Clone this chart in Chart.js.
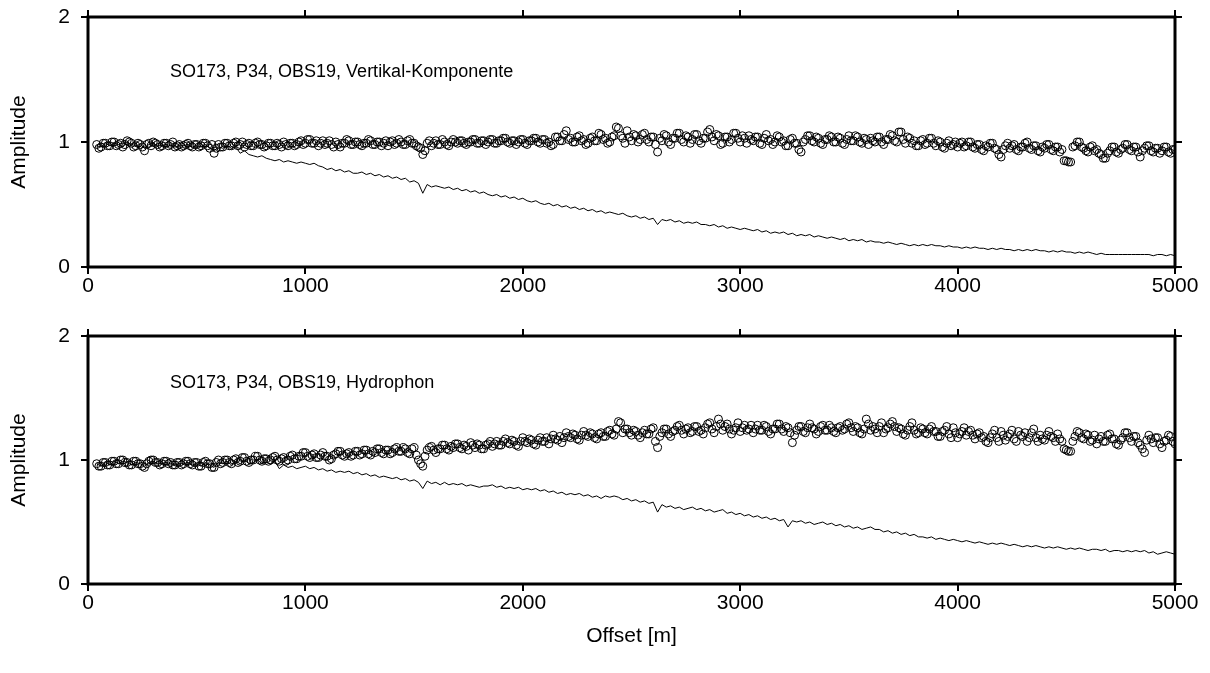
<!DOCTYPE html>
<html>
<head>
<meta charset="utf-8">
<script src="https://cdn.jsdelivr.net/npm/chart.js@4/dist/chart.umd.min.js"></script>
<style>
  html, body { margin: 0; padding: 0; background: #fff; }
  #wrap { position: relative; width: 1210px; height: 673px; }
  .panel { position: absolute; left: 0; }
</style>
</head>
<body>
<div id="wrap">
  <div class="panel" style="top:0"><canvas id="vertChart" width="1210" height="300"></canvas></div>
  <div class="panel" style="top:320px"><canvas id="hydroChart" width="1210" height="353"></canvas></div>
</div>
<script>
/* ================= DATA ================= */
// shot offsets start at 40 m; circles every 10 m, lines every 20 m
const offsetStart = 40;
const circleStep = 10;
const lineStep = 20;

const xTicks = [0, 1000, 2000, 3000, 4000, 5000];
const yTicks = [0, 1, 2];

// Vertikal-Komponente: corrected amplitudes (circles, 10 m)
const vertCorrected = [
  0.98,0.95,0.96,0.99,0.99,0.97,0.97,1.00,1.00,0.97,0.98,0.99,0.96,0.98,1.01,1.00,0.99,0.96,0.97,0.99,
  0.98,0.96,0.93,0.98,0.99,0.97,1.00,0.99,0.98,0.96,0.97,0.99,0.99,0.97,0.98,1.00,0.96,0.97,0.98,0.96,
  0.97,0.98,0.99,0.97,0.96,0.98,0.98,0.96,0.97,0.99,0.99,0.97,0.95,0.98,0.91,0.95,0.98,0.96,0.96,0.99,
  0.99,0.97,0.97,0.99,1.00,0.97,0.98,1.00,0.96,0.98,0.99,0.97,0.97,0.99,1.00,0.98,0.98,0.96,0.97,0.99,
  0.99,0.97,0.97,0.99,0.98,0.96,1.00,0.98,0.97,0.99,0.99,0.97,0.98,1.00,1.01,0.98,0.99,1.02,1.02,0.99,
  0.99,1.01,0.97,0.99,1.01,0.98,0.99,1.01,0.98,0.96,1.00,0.98,0.96,0.99,0.99,1.02,1.01,0.98,0.98,1.00,
  1.00,0.98,0.97,0.99,0.99,1.02,1.01,0.98,0.98,1.00,1.00,0.97,0.99,1.01,0.97,1.00,1.01,0.98,0.99,1.02,
  1.00,0.98,0.98,1.01,1.02,0.99,0.99,0.97,0.96,0.95,0.90,0.93,0.99,1.01,0.97,0.99,1.01,0.98,0.98,1.02,
  1.00,0.98,0.97,1.00,1.02,1.00,0.99,1.01,1.01,0.99,0.98,1.00,1.00,1.02,1.02,0.99,0.99,1.01,1.01,0.98,
  1.00,1.02,1.02,0.99,0.99,1.01,1.01,1.03,1.03,1.00,0.99,1.01,1.01,0.98,1.00,1.02,1.02,0.99,0.98,1.01,
  1.01,1.03,1.03,1.00,0.99,1.02,1.02,0.99,1.00,0.97,0.98,1.04,1.04,1.01,1.01,1.06,1.09,1.02,1.03,1.00,
  1.00,1.04,1.05,1.01,1.02,0.98,0.99,1.03,1.04,1.01,1.01,1.07,1.06,1.02,1.03,0.99,1.00,1.04,1.05,1.12,
  1.11,1.05,1.03,0.99,1.09,1.04,1.01,1.06,1.05,1.00,1.02,1.06,1.07,1.02,1.00,1.04,1.04,0.98,0.92,1.03,
  1.01,1.06,1.05,1.00,0.98,1.03,1.03,1.07,1.07,1.02,1.00,1.05,1.04,0.99,1.02,1.06,1.06,1.01,0.99,1.03,
  1.03,1.08,1.10,1.04,1.01,1.06,1.05,0.98,0.99,1.04,1.04,1.00,1.02,1.07,1.07,1.03,1.00,1.05,1.03,0.99,
  1.05,1.02,1.01,1.04,1.04,0.99,0.98,1.03,1.06,1.01,1.02,0.98,1.00,1.05,1.04,1.00,1.01,0.97,0.97,1.02,
  1.03,0.99,0.99,0.94,0.92,1.00,1.02,1.05,1.05,1.01,1.00,1.04,1.03,0.99,0.98,1.02,1.02,1.05,1.04,1.00,
  1.00,1.04,1.03,0.99,0.98,1.02,1.05,1.01,1.01,1.05,1.04,1.00,0.99,1.03,1.02,0.98,1.03,1.01,1.00,1.04,
  1.04,1.00,0.98,1.02,1.02,1.06,1.05,1.01,1.00,1.08,1.08,1.02,0.99,1.04,1.03,0.99,1.01,0.97,0.97,1.01,
  1.02,0.98,0.99,1.03,1.03,0.99,0.97,1.01,1.00,0.96,0.95,0.99,1.01,0.97,0.98,1.00,0.96,0.99,1.00,0.96,
  0.97,1.00,1.00,0.96,0.95,0.98,0.98,0.94,0.93,0.97,0.96,0.99,0.99,0.95,0.94,0.90,0.88,0.94,0.97,0.99,
  0.95,0.97,0.98,0.94,0.93,0.96,0.96,0.99,1.00,0.95,0.94,0.97,0.97,0.93,0.92,0.96,0.95,0.98,0.98,0.94,
  0.93,0.96,0.96,0.92,0.94,0.85,0.85,0.84,0.84,0.96,0.97,1.00,1.00,0.96,0.95,0.93,0.92,0.96,0.97,0.93,
  0.94,0.91,0.90,0.87,0.87,0.91,0.93,0.96,0.96,0.92,0.91,0.94,0.95,0.98,0.98,0.94,0.93,0.96,0.96,0.92,
  0.88,0.93,0.95,0.97,0.97,0.93,0.92,0.95,0.95,0.91,0.93,0.96,0.96,0.92,0.91,0.94,0.94
];

// Vertikal-Komponente: raw amplitudes (line, 20 m)
const vertRaw = [
  0.97,0.96,0.99,0.97,0.99,0.98,0.96,1.00,0.98,0.97,
  0.98,0.95,0.98,0.99,0.97,0.97,0.98,0.97,0.96,0.97,
  0.97,0.98,0.96,0.97,0.96,0.98,0.95,0.93,0.96,0.95,
  0.97,0.95,0.96,0.91,0.93,0.90,0.89,0.88,0.89,0.87,
  0.86,0.85,0.86,0.84,0.85,0.84,0.83,0.84,0.83,0.82,
  0.83,0.81,0.80,0.78,0.79,0.77,0.78,0.76,0.77,0.75,
  0.75,0.76,0.74,0.75,0.73,0.74,0.72,0.73,0.71,0.72,
  0.70,0.71,0.68,0.69,0.67,0.59,0.66,0.64,0.65,0.64,
  0.63,0.64,0.62,0.63,0.61,0.62,0.60,0.61,0.59,0.60,
  0.58,0.57,0.58,0.56,0.57,0.55,0.56,0.54,0.55,0.53,
  0.52,0.53,0.51,0.50,0.51,0.49,0.50,0.48,0.49,0.47,
  0.48,0.46,0.47,0.45,0.46,0.44,0.45,0.43,0.44,0.43,
  0.42,0.43,0.41,0.40,0.41,0.39,0.40,0.38,0.39,0.34,
  0.38,0.37,0.38,0.36,0.37,0.35,0.36,0.35,0.36,0.34,
  0.34,0.33,0.34,0.32,0.33,0.31,0.32,0.31,0.30,0.31,
  0.30,0.29,0.30,0.28,0.29,0.27,0.28,0.27,0.28,0.26,
  0.27,0.25,0.26,0.25,0.26,0.24,0.25,0.24,0.23,0.24,
  0.23,0.22,0.23,0.21,0.22,0.21,0.22,0.20,0.21,0.20,
  0.20,0.19,0.20,0.19,0.18,0.19,0.18,0.17,0.18,0.17,
  0.18,0.17,0.18,0.17,0.17,0.16,0.17,0.16,0.16,0.15,
  0.16,0.15,0.16,0.15,0.15,0.14,0.15,0.14,0.15,0.14,
  0.14,0.13,0.14,0.13,0.14,0.13,0.14,0.13,0.13,0.12,
  0.13,0.12,0.13,0.12,0.12,0.11,0.12,0.11,0.12,0.11,
  0.10,0.11,0.10,0.10,0.10,0.10,0.10,0.10,0.10,0.10,
  0.10,0.10,0.10,0.09,0.10,0.10,0.09,0.10,0.09
];

// Hydrophon: corrected amplitudes (circles, 10 m)
const hydroCorrected = [
  0.97,0.95,0.95,0.98,0.98,0.96,0.96,0.99,0.99,0.97,0.97,1.00,1.00,0.98,0.98,0.96,0.96,0.99,0.99,0.97,
  0.97,0.95,0.94,0.97,0.99,1.00,1.00,0.98,0.98,0.96,0.97,0.99,0.99,0.97,0.98,0.96,0.96,0.98,0.98,0.96,
  0.97,0.99,0.99,0.97,0.96,0.98,0.98,0.95,0.95,0.98,0.99,0.97,0.97,0.94,0.94,0.98,1.00,0.97,0.98,1.00,
  1.00,0.98,0.97,1.00,1.01,0.98,0.99,1.02,1.02,0.99,0.98,1.00,1.00,1.03,1.03,1.00,0.99,1.01,1.01,0.99,
  1.00,1.02,1.03,1.00,0.99,1.01,1.02,0.99,1.00,1.03,1.04,1.01,1.01,1.03,1.03,1.06,1.06,1.03,1.02,1.04,
  1.05,1.02,1.02,1.04,1.06,1.03,1.03,1.00,1.01,1.04,1.05,1.07,1.07,1.04,1.03,1.05,1.06,1.03,1.04,1.07,
  1.07,1.04,1.05,1.08,1.08,1.05,1.04,1.07,1.06,1.09,1.09,1.06,1.05,1.08,1.08,1.05,1.06,1.09,1.10,1.07,
  1.07,1.10,1.09,1.06,1.05,1.09,1.10,1.04,1.00,0.97,0.95,1.03,1.08,1.10,1.11,1.08,1.06,1.09,1.09,1.12,
  1.12,1.09,1.08,1.11,1.10,1.13,1.13,1.10,1.09,1.12,1.11,1.08,1.14,1.12,1.10,1.13,1.12,1.09,1.09,1.12,
  1.13,1.15,1.11,1.13,1.15,1.12,1.12,1.15,1.17,1.14,1.13,1.16,1.15,1.12,1.11,1.15,1.18,1.15,1.14,1.17,
  1.16,1.13,1.12,1.16,1.18,1.15,1.15,1.18,1.13,1.17,1.20,1.17,1.16,1.19,1.14,1.18,1.22,1.19,1.18,1.21,
  1.20,1.17,1.16,1.20,1.23,1.20,1.19,1.22,1.21,1.18,1.17,1.21,1.22,1.19,1.19,1.23,1.24,1.21,1.20,1.25,
  1.31,1.30,1.22,1.25,1.25,1.22,1.20,1.24,1.23,1.20,1.18,1.22,1.24,1.21,1.21,1.25,1.26,1.15,1.10,1.19,
  1.22,1.25,1.25,1.21,1.19,1.23,1.24,1.27,1.28,1.24,1.21,1.25,1.26,1.22,1.23,1.27,1.27,1.23,1.24,1.21,
  1.26,1.29,1.30,1.25,1.22,1.27,1.33,1.29,1.24,1.27,1.29,1.25,1.21,1.24,1.26,1.30,1.23,1.26,1.28,1.24,
  1.25,1.28,1.22,1.25,1.28,1.24,1.24,1.28,1.27,1.23,1.21,1.25,1.25,1.29,1.29,1.25,1.23,1.27,1.26,1.22,
  1.14,1.20,1.24,1.27,1.27,1.23,1.22,1.26,1.29,1.26,1.25,1.21,1.23,1.27,1.28,1.24,1.24,1.28,1.26,1.23,
  1.22,1.26,1.27,1.24,1.25,1.29,1.30,1.26,1.23,1.27,1.26,1.22,1.21,1.25,1.33,1.29,1.24,1.27,1.25,1.22,
  1.27,1.30,1.22,1.25,1.26,1.29,1.31,1.27,1.23,1.26,1.25,1.21,1.20,1.24,1.27,1.30,1.24,1.21,1.22,1.26,
  1.25,1.22,1.21,1.25,1.27,1.23,1.23,1.19,1.19,1.23,1.24,1.27,1.21,1.18,1.26,1.22,1.18,1.21,1.23,1.26,
  1.20,1.23,1.24,1.20,1.17,1.21,1.22,1.18,1.19,1.15,1.14,1.18,1.21,1.24,1.18,1.15,1.23,1.20,1.16,1.19,
  1.21,1.24,1.17,1.15,1.23,1.20,1.19,1.22,1.15,1.18,1.22,1.25,1.18,1.15,1.20,1.17,1.16,1.20,1.23,1.19,
  1.18,1.15,1.21,1.17,1.15,1.09,1.08,1.07,1.07,1.15,1.19,1.23,1.22,1.18,1.17,1.21,1.20,1.15,1.16,1.20,
  1.13,1.17,1.19,1.15,1.15,1.20,1.21,1.17,1.17,1.13,1.12,1.16,1.18,1.22,1.22,1.18,1.15,1.19,1.19,1.14,
  1.12,1.09,1.06,1.16,1.20,1.17,1.14,1.18,1.18,1.13,1.10,1.15,1.16,1.20,1.19,1.15,1.13
];

// Hydrophon: raw amplitudes (line, 20 m)
const hydroRaw = [
  0.97,0.95,0.98,0.96,0.99,0.97,0.99,0.98,0.96,0.98,
  0.97,0.95,0.98,0.99,0.97,0.97,0.98,0.97,0.96,0.97,
  0.97,0.98,0.96,0.97,0.95,0.98,0.96,0.94,0.98,0.97,
  0.99,0.96,0.99,0.97,1.00,0.97,0.98,1.00,0.97,0.98,
  0.97,0.99,0.93,0.96,0.94,0.95,0.93,0.94,0.95,0.93,
  0.94,0.92,0.93,0.91,0.92,0.90,0.91,0.90,0.91,0.89,
  0.90,0.88,0.89,0.87,0.88,0.86,0.87,0.86,0.85,0.86,
  0.84,0.85,0.83,0.84,0.82,0.77,0.83,0.81,0.82,0.80,
  0.82,0.80,0.81,0.80,0.81,0.79,0.80,0.79,0.78,0.79,
  0.79,0.80,0.78,0.79,0.77,0.78,0.77,0.78,0.76,0.77,
  0.76,0.77,0.75,0.76,0.74,0.75,0.73,0.74,0.72,0.73,
  0.72,0.73,0.71,0.72,0.70,0.71,0.69,0.71,0.70,0.71,
  0.70,0.68,0.69,0.67,0.68,0.66,0.67,0.65,0.66,0.58,
  0.64,0.62,0.63,0.61,0.62,0.60,0.61,0.62,0.60,0.61,
  0.59,0.60,0.58,0.59,0.60,0.57,0.58,0.56,0.57,0.55,
  0.56,0.54,0.55,0.53,0.54,0.52,0.53,0.51,0.52,0.46,
  0.51,0.50,0.51,0.49,0.50,0.48,0.49,0.50,0.48,0.49,
  0.47,0.48,0.46,0.47,0.45,0.46,0.44,0.45,0.46,0.44,
  0.44,0.42,0.43,0.41,0.42,0.40,0.41,0.39,0.40,0.38,
  0.38,0.37,0.38,0.36,0.37,0.36,0.35,0.36,0.35,0.34,
  0.35,0.34,0.33,0.34,0.33,0.32,0.33,0.32,0.33,0.32,
  0.31,0.32,0.31,0.30,0.31,0.30,0.31,0.30,0.29,0.30,
  0.29,0.30,0.29,0.28,0.29,0.28,0.29,0.28,0.27,0.28,
  0.28,0.27,0.28,0.26,0.27,0.27,0.26,0.27,0.26,0.27,
  0.26,0.27,0.25,0.26,0.24,0.25,0.26,0.25,0.24
];

/* ================= SHARED STYLE ================= */
const FONT = '"Liberation Sans", Arial, sans-serif';
Chart.defaults.font.family = FONT;
Chart.defaults.color = "#000";

const AXIS_FONT = 21;

const tickGrid = {
  drawOnChartArea: false,
  drawTicks: true,
  tickLength: 7,
  color: "#000",
  lineWidth: 2
};

// thick frame + panel caption
const framePlugin = {
  id: "frame",
  afterDraw(chart, args, opts) {
    const { ctx, chartArea: a } = chart;
    ctx.save();
    ctx.strokeStyle = "#000";
    ctx.lineWidth = 3;
    ctx.strokeRect(a.left, a.top, a.right - a.left, a.bottom - a.top);
    ctx.fillStyle = "#000";
    ctx.font = "18px " + FONT;
    ctx.textBaseline = "middle";
    ctx.fillText(opts.caption, a.left + 82, a.top + opts.captionY);
    ctx.restore();
  }
};

// offsets follow the regular shot grid
function toPoints(values, step) {
  return values.map((v, i) => ({ x: offsetStart + i * step, y: v }));
}

// fix axis box sizes so the plot frame lands where it should
function fixWidth(w) {
  return s => { s.width = w; s.paddingTop = 0; s.paddingBottom = 0; };
}

/* ================= PANEL BUILDER ================= */
function makePanel(canvasId, corrected, raw, caption, captionY, bottomH, topH, showTitle) {
  return new Chart(document.getElementById(canvasId), {
    type: "scatter",
    data: {
      datasets: [
        {
          data: toPoints(raw, lineStep),
          showLine: true,
          borderColor: "#000",
          borderWidth: 1,
          pointRadius: 0,
          tension: 0
        },
        {
          data: toPoints(corrected, circleStep),
          showLine: false,
          pointStyle: "circle",
          pointRadius: 4,
          pointBorderWidth: 1,
          pointBorderColor: "#000",
          pointBackgroundColor: "rgba(0,0,0,0)"
        }
      ]
    },
    options: {
      responsive: false,
      animation: false,
      devicePixelRatio: 1,
      layout: { padding: 0 },
      plugins: {
        legend: { display: false },
        tooltip: { enabled: false },
        frame: { caption, captionY }
      },
      scales: {
        x: {
          type: "linear",
          position: "bottom",
          min: 0,
          max: 5000,
          afterBuildTicks: s => { s.ticks = xTicks.map(v => ({ value: v })); },
          ticks: {
            font: { size: AXIS_FONT },
            padding: 0,
            maxRotation: 0,
            callback: v => String(v)
          },
          grid: tickGrid,
          border: { display: false },
          title: {
            display: showTitle,
            text: "Offset [m]",
            font: { size: AXIS_FONT },
            padding: { top: 0, bottom: 24 }
          },
          afterFit: s => { s.height = bottomH; }
        },
        xTop: {
          type: "linear",
          position: "top",
          min: 0,
          max: 5000,
          afterBuildTicks: s => { s.ticks = xTicks.map(v => ({ value: v })); },
          ticks: { display: false },
          grid: tickGrid,
          border: { display: false },
          afterFit: s => { s.height = topH; }
        },
        y: {
          type: "linear",
          position: "left",
          min: 0,
          max: 2,
          afterBuildTicks: s => { s.ticks = yTicks.map(v => ({ value: v })); },
          ticks: { font: { size: AXIS_FONT }, padding: 11 },
          grid: tickGrid,
          border: { display: false },
          title: {
            display: true,
            text: "Amplitude",
            font: { size: AXIS_FONT },
            padding: { top: 7, bottom: 0 }
          },
          afterFit: fixWidth(88)
        },
        yRight: {
          type: "linear",
          position: "right",
          min: 0,
          max: 2,
          afterBuildTicks: s => { s.ticks = yTicks.map(v => ({ value: v })); },
          ticks: { display: false },
          grid: tickGrid,
          border: { display: false },
          afterFit: fixWidth(35)
        }
      }
    },
    plugins: [framePlugin]
  });
}

/* ================= RENDER ================= */
makePanel("vertChart", vertCorrected, vertRaw,
  "SO173, P34, OBS19, Vertikal-Komponente", 55, 33, 17, false);

makePanel("hydroChart", hydroCorrected, hydroRaw,
  "SO173, P34, OBS19, Hydrophon", 47, 89, 16, true);
</script>
</body>
</html>
